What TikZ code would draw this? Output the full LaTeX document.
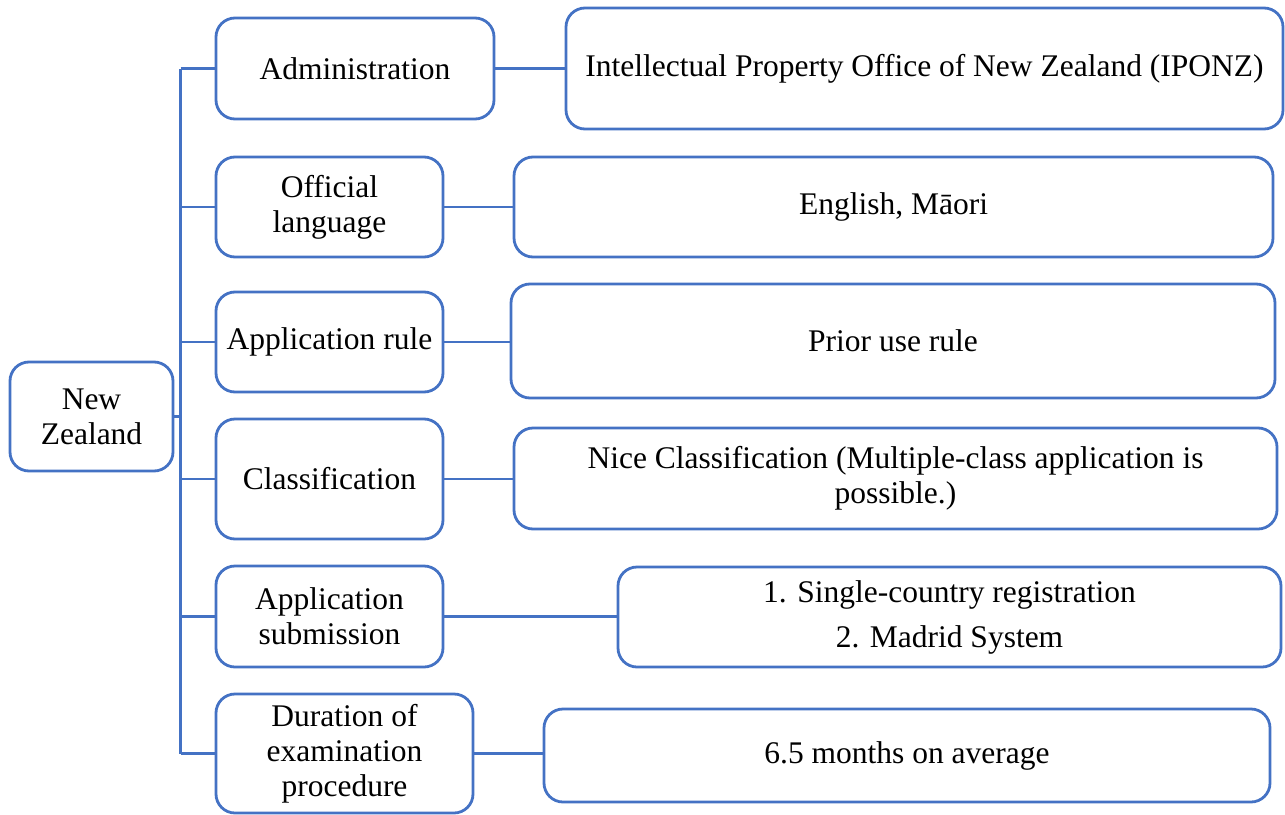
\documentclass[tikz,border=0pt]{standalone}
\usepackage{fontspec}
\setmainfont{Liberation Serif}
\definecolor{lineblue}{HTML}{4472C4}
\tikzset{
  box/.style={draw=lineblue, line width=2.8pt, rounded corners=19pt, inner sep=0pt,
    align=center, font=\fontsize{31.5}{35}\selectfont, text=black},
  conn/.style={draw=lineblue, line width=2.8pt}
}
\begin{document}
\begin{tikzpicture}[x=1pt,y=-1pt]
\useasboundingbox (0,0) rectangle (1285,814);
% root
\node[box, minimum width=163pt, minimum height=109pt] (nz) at (91.5,416.5) {New\\Zealand};
% middle column
\node[box, minimum width=278pt, minimum height=101pt] (adm) at (355,68.5) {Administration};
\node[box, minimum width=227pt, minimum height=100pt] (lang) at (329.5,207) {Official\\language};
\node[box, minimum width=227pt, minimum height=100pt] (rule) at (329.5,342) {Application rule};
\node[box, minimum width=227pt, minimum height=120pt] (cls) at (329.5,479) {Classification};
\node[box, minimum width=227pt, minimum height=101pt] (sub) at (329.5,616.5) {Application\\submission};
\node[box, minimum width=257pt, minimum height=119pt] (dur) at (344.5,753.5) {Duration of\\examination\\procedure};
% right column
\node[box, minimum width=717pt, minimum height=121pt] (iponz) at (924.5,68.5) {Intellectual Property Office of New Zealand (IPONZ)};
\node[box, minimum width=759pt, minimum height=100pt] (eng) at (893.5,207) {English, Māori};
\node[box, minimum width=764pt, minimum height=114pt] (prior) at (893,341) {Prior use rule};
\node[box, minimum width=763pt, minimum height=101pt] (nice) at (895.5,478.5) {Nice Classification (Multiple-class application is\\possible.)};
\node[box, minimum width=663pt, minimum height=100pt] (single) at (949.5,617) {1. Single-country registration\\[10pt]2. Madrid System};
\node[box, minimum width=726pt, minimum height=93pt] (months) at (907,755.5) {6.5 months on average};
% trunk
\coordinate (tk) at (180.5,0);
\draw[conn] (adm.west -| tk) -- (dur.west -| tk);
\draw[conn] (nz.east) -- (nz.east -| tk);
\foreach \m in {adm,lang,rule,cls,sub,dur}{
  \draw[conn] (\m.west -| tk) -- (\m.west);
}
\draw[conn] (adm.east) -- (adm.east -| iponz.west);
\draw[conn] (lang.east) -- (lang.east -| eng.west);
\draw[conn] (rule.east) -- (rule.east -| prior.west);
\draw[conn] (cls.east) -- (cls.east -| nice.west);
\draw[conn] (sub.east) -- (sub.east -| single.west);
\draw[conn] (dur.east) -- (dur.east -| months.west);
\end{tikzpicture}
\end{document}
